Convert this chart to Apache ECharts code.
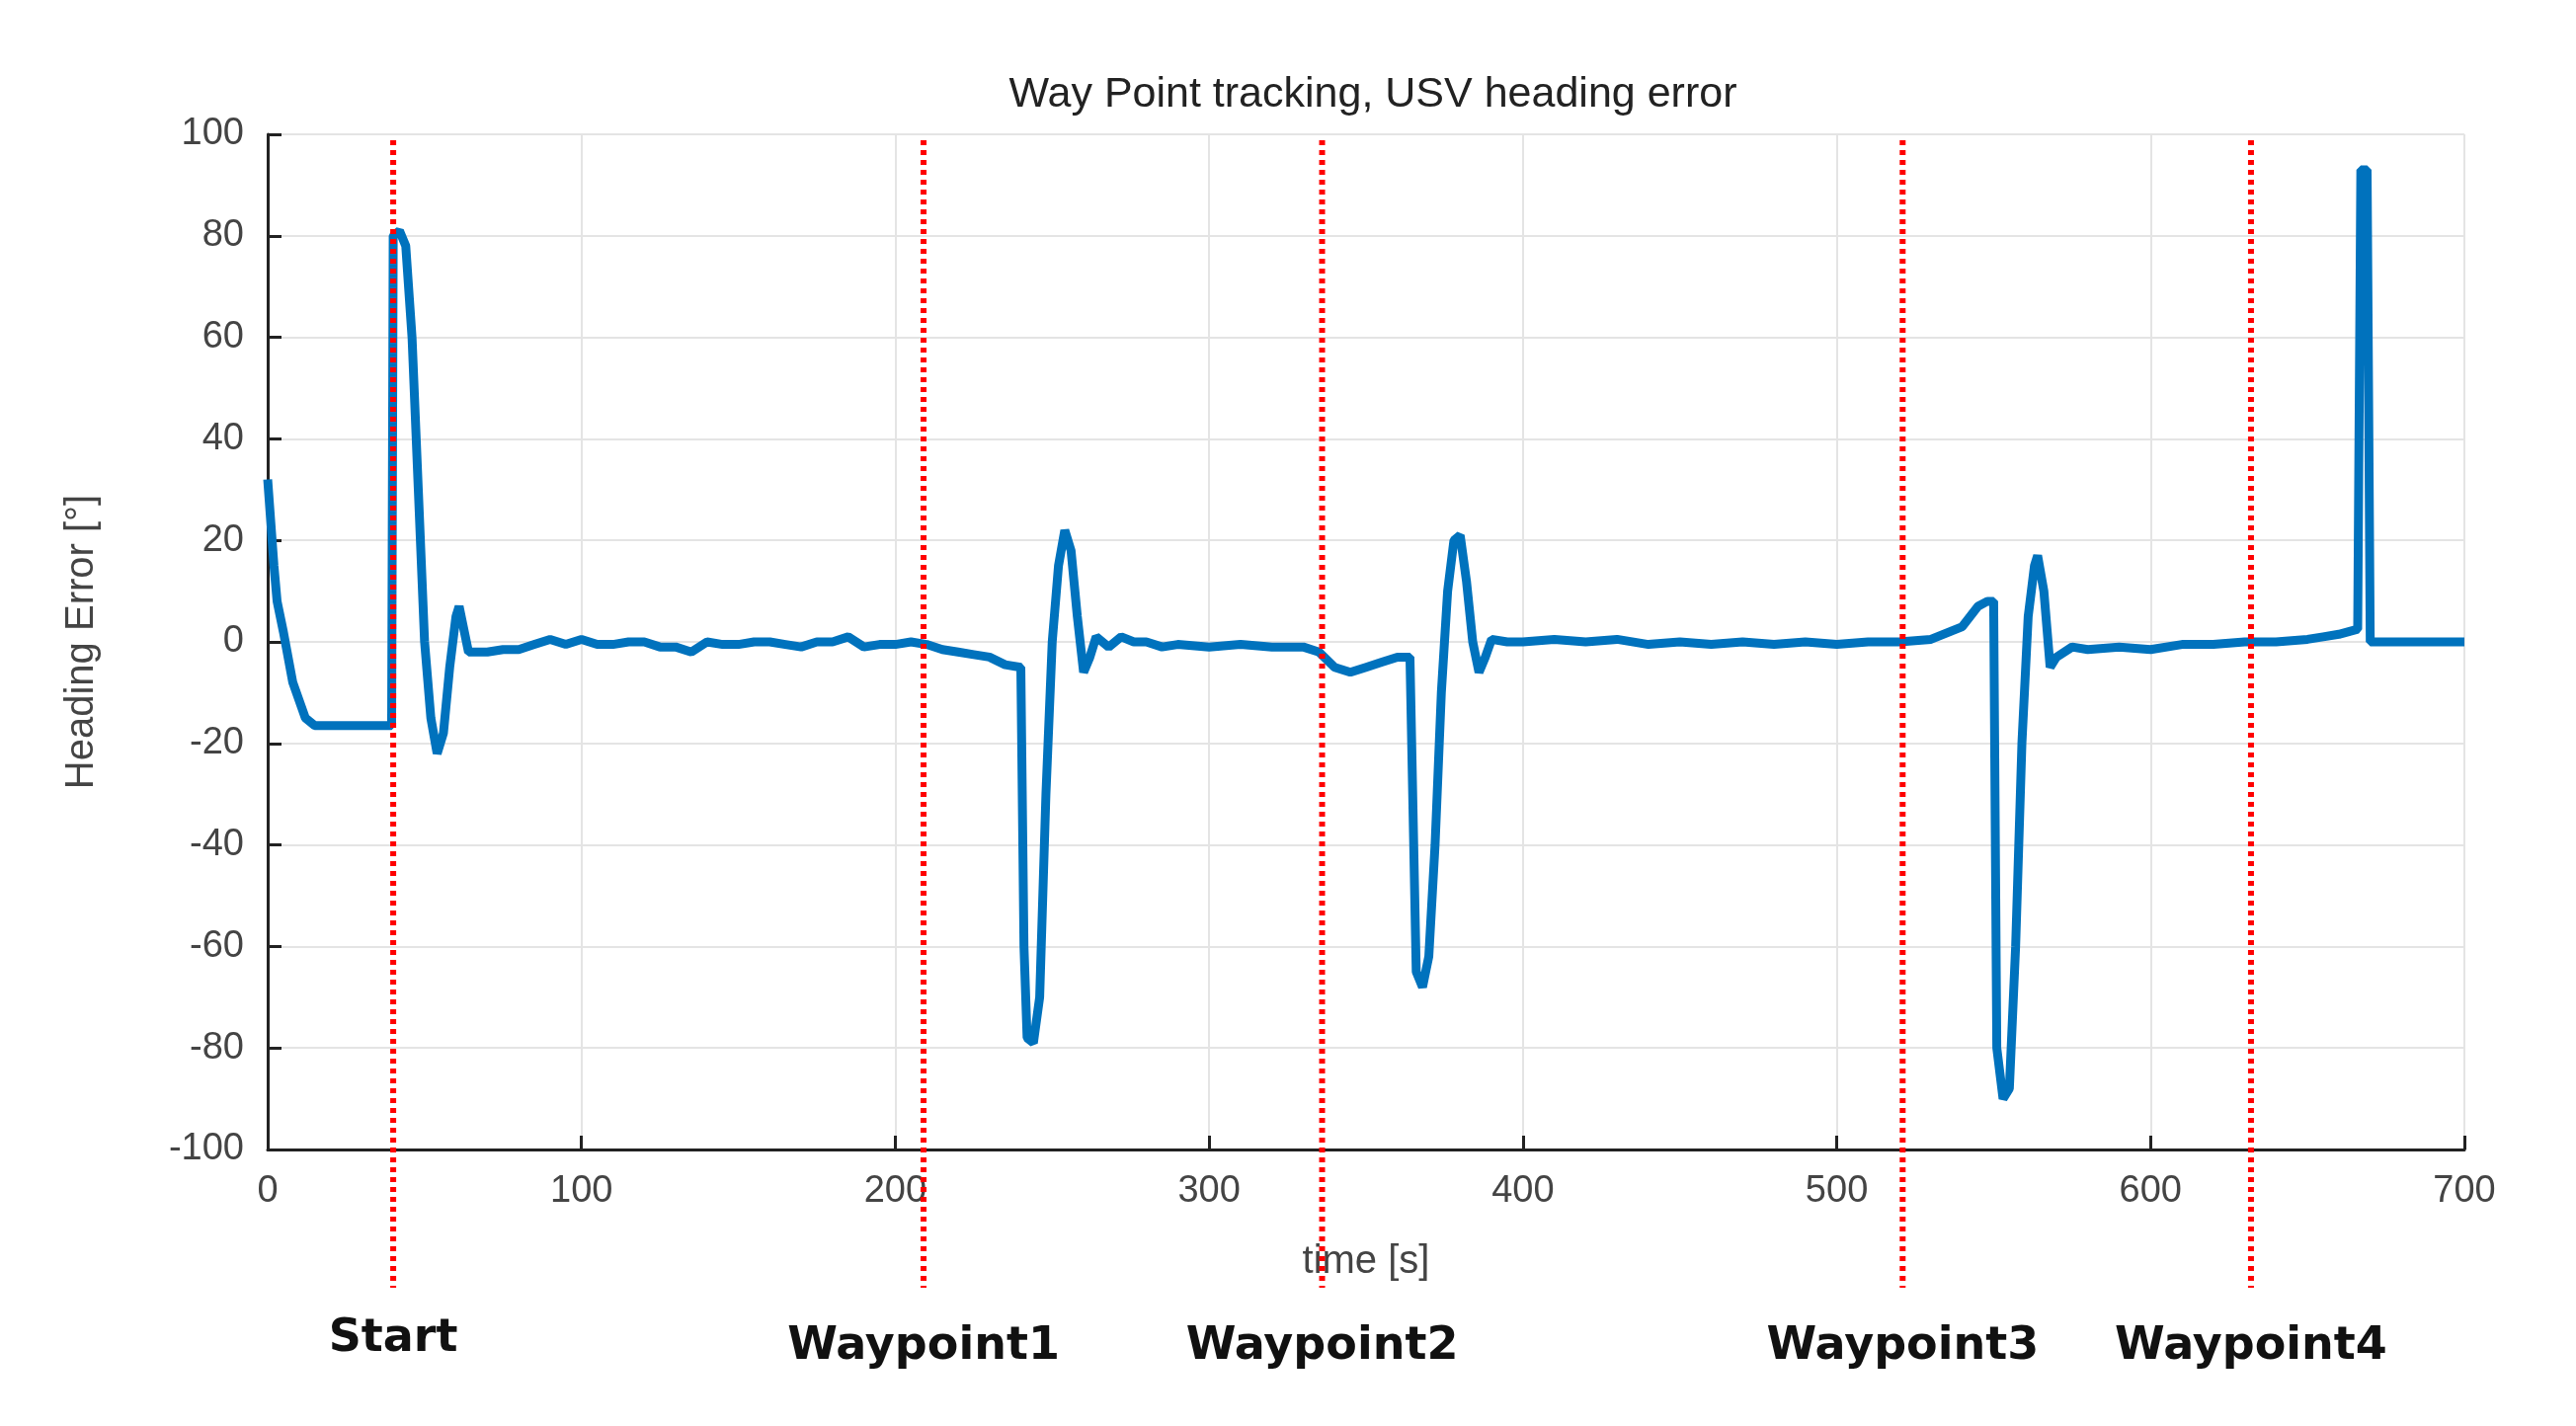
<!DOCTYPE html>
<html>
<head>
<meta charset="utf-8">
<script src="https://cdn.jsdelivr.net/npm/echarts@6/dist/echarts.min.js"></script>
<style>html,body{margin:0;padding:0;background:#fff}#main{width:2608px;height:1444px}</style>
</head>
<body>
<div id="main"></div>
<script>
// heading error samples [time s, error deg]
var times = [0,2,3,5,8,12,15,39.5,40,42,44,46,48,50,52,54,56,58,60,61,62,64,70,75,80,85,90,95,100,105,110,115,120,125,130,135,140,145,150,155,160,165,170,175,180,185,190,195,200,205,210,215,220,225,230,235,240,241,242,244,246,248,250,252,254,256,258,260,262,264,268,272,276,280,285,290,300,310,320,330,335,340,345,350,355,360,364,366,368,370,372,374,376,378,380,382,384,386,388,390,395,400,410,420,430,440,450,460,470,480,490,500,510,520,530,540,545,548,550,551,553,555,557,559,561,563,564,566,568,570,575,580,590,600,610,620,630,640,650,655,660,666,667,669,670,700];
var heading = [32,15,8,2,-8,-15,-16.5,-16.5,80,81,78,60,30,0,-15,-22,-18,-5,5,7,4,-2,-2,-1.5,-1.5,-0.5,0.5,-0.5,0.5,-0.5,-0.5,0,0,-1,-1,-2,0,-0.5,-0.5,0,0,-0.5,-1,0,0,1,-1,-0.5,-0.5,0,-0.5,-1.5,-2,-2.5,-3,-4.5,-5,-60,-78,-79,-70,-30,0,15,22,18,5,-6,-3,1,-1,1,0,0,-1,-0.5,-1,-0.5,-1,-1,-2,-5,-6,-5,-4,-3,-3,-65,-68,-62,-40,-10,10,20,21,12,0,-6,-3,0.5,0,0,0.5,0,0.5,-0.5,0,-0.5,0,-0.5,0,-0.5,0,0,0.5,3,7,8,8,-80,-90,-88,-60,-20,5,15,17,10,-5,-3,-1,-1.5,-1,-1.5,-0.5,-0.5,0,0,0.5,1,1.5,2.5,93,93,0,0];
var markTimes = [40, 209, 336, 521, 632];
var markNames = ['Start', 'Waypoint1', 'Waypoint2', 'Waypoint3', 'Waypoint4'];
var markNameOffsets = [192, 200, 200, 200, 200];
var xTicks = [0, 100, 200, 300, 400, 500, 600, 700];
var yTicks = [-100, -80, -60, -40, -20, 0, 20, 40, 60, 80, 100];

var lineData = times.map(function (t, i) { return [t, heading[i]]; });
var markData = markTimes.map(function (t, i) { return [t, markNames[i], markNameOffsets[i]]; });

var chart = echarts.init(document.getElementById('main'));
var font = 'Liberation Sans, Arial, sans-serif';
chart.setOption({
  backgroundColor: '#fff',
  animation: false,
  title: {
    text: 'Way Point tracking, USV heading error',
    left: 1385, top: 70, textAlign: 'center',
    textStyle: { fontFamily: font, fontWeight: 'normal', fontSize: 43, color: '#222' }
  },
  grid: { left: 271, right: 113, top: 136, bottom: 280 },
  xAxis: {
    type: 'value', min: xTicks[0], max: xTicks[xTicks.length - 1], interval: 100,
    name: 'time [s]', nameLocation: 'middle', nameGap: 94,
    nameTextStyle: { fontFamily: font, fontSize: 40, color: '#444' },
    axisLine: { onZero: false, lineStyle: { color: '#222', width: 3 } },
    axisTick: { inside: true, length: 14, lineStyle: { color: '#222', width: 3 } },
    axisLabel: { fontFamily: font, fontSize: 38, color: '#444', margin: 24 },
    splitLine: { lineStyle: { color: '#e4e4e4', width: 2 } }
  },
  yAxis: {
    type: 'value', min: yTicks[0], max: yTicks[yTicks.length - 1], interval: 20,
    name: 'Heading Error [°]', nameLocation: 'middle', nameGap: 168,
    nameTextStyle: { fontFamily: font, fontSize: 40, color: '#444' },
    axisLine: { lineStyle: { color: '#222', width: 3 } },
    axisTick: { inside: true, length: 14, lineStyle: { color: '#222', width: 3 } },
    axisLabel: { fontFamily: font, fontSize: 38, color: '#444', margin: 24 },
    splitLine: { lineStyle: { color: '#e4e4e4', width: 2 } }
  },
  series: [
    {
      type: 'line', data: lineData, showSymbol: false, z: 3,
      lineStyle: { color: '#0072BD', width: 9 }
    },
    {
      // red dotted waypoint markers running below the axis, with labels
      type: 'custom', data: markData, clip: false, z: 4,
      encode: { x: 0 },
      renderItem: function (params, api) {
        var top = api.coord([api.value(0), 100]);
        var bot = api.coord([api.value(0), -100]);
        var off = api.value(2);
        return {
          type: 'group',
          children: [
            { type: 'line', shape: { x1: top[0], y1: top[1] + 6, x2: bot[0], y2: bot[1] + 140 },
              style: { stroke: '#ff0000', lineWidth: 6, lineDash: [5, 5] } },
            { type: 'text', x: bot[0], y: bot[1] + off,
              style: { text: markNames[params.dataIndex], fontFamily: 'DejaVu Sans, sans-serif', fontWeight: 'bold', fontSize: 46, fill: '#111', align: 'center', verticalAlign: 'middle' } }
          ]
        };
      }
    }
  ]
});
</script>
</body>
</html>
